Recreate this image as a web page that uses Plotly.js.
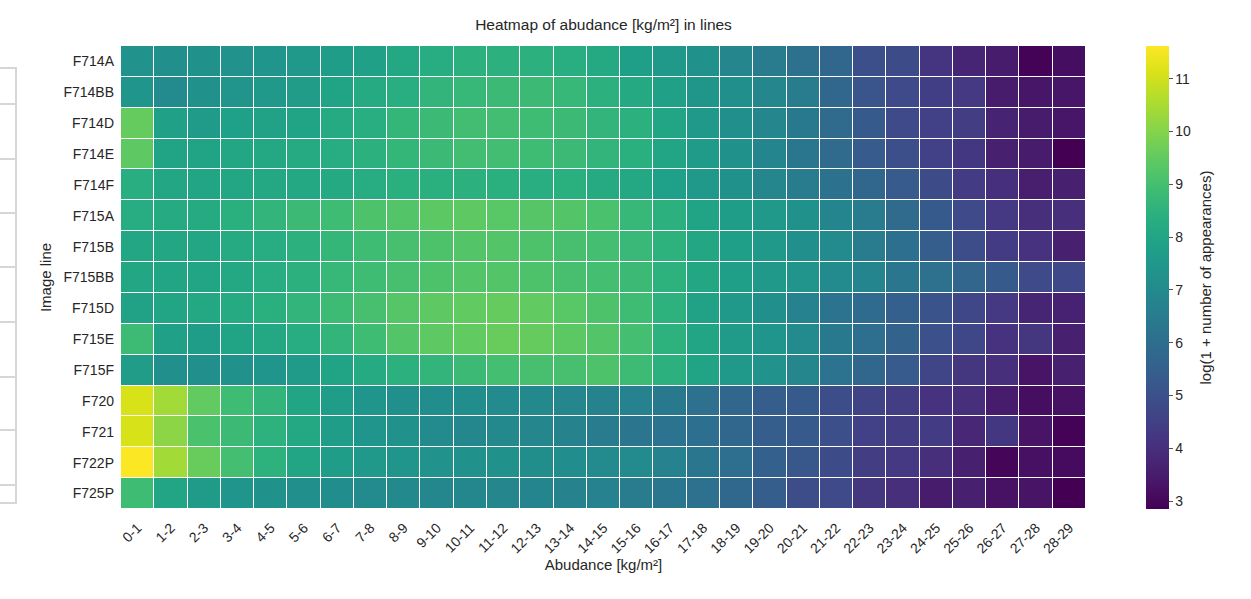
<!DOCTYPE html>
<html>
<head>
<meta charset="utf-8">
<script src="https://cdn.plot.ly/plotly-3.0.1.min.js"></script>
<style>html,body{margin:0;padding:0;background:#fff;}#chart{width:1251px;height:599px;}</style>
</head>
<body>
<div id="chart"></div>
<script>
// Abundance bins (x categories)
const bins = ["0-1","1-2","2-3","3-4","4-5","5-6","6-7","7-8","8-9","9-10","10-11","11-12","12-13","13-14","14-15","15-16","16-17","17-18","18-19","19-20","20-21","21-22","22-23","23-24","24-25","25-26","26-27","27-28","28-29"];
// Image lines (y categories)
const lines = ["F714A","F714BB","F714D","F714E","F714F","F715A","F715B","F715BB","F715D","F715E","F715F","F720","F721","F722P","F725P"];

// log(1 + number of appearances), one array per image line
const F714A  = [7.3,7.2,7.25,7.3,7.4,7.55,7.7,7.85,8.1,8.3,8.45,8.45,8.45,8.35,8.15,7.75,7.55,7.25,6.85,6.5,6.1,5.75,4.95,4.85,4.15,3.75,3.5,2.9,3.15];
const F714BB = [7.4,7.05,7.25,7.35,7.5,7.65,7.95,8.2,8.35,8.6,8.7,8.8,8.8,8.7,8.45,8.15,7.85,7.45,7.2,6.85,6.45,5.75,5.15,4.8,4.45,4.3,3.5,3.35,3.35];
const F714D  = [9.55,7.85,7.6,7.8,7.9,7.95,8.2,8.35,8.65,8.8,8.95,8.95,8.9,8.8,8.6,8.45,8.0,7.55,7.2,6.85,6.4,5.85,5.3,4.8,4.5,4.4,3.7,3.5,3.35];
const F714E  = [9.45,7.95,7.95,8.05,8.1,8.2,8.3,8.45,8.65,8.8,8.95,8.95,8.9,8.8,8.6,8.4,8.0,7.6,7.25,6.8,6.3,5.85,5.35,4.95,4.5,4.25,3.6,3.5,2.85];
const F714F  = [8.35,8.05,8.0,8.05,8.1,8.1,8.15,8.3,8.4,8.4,8.45,8.4,8.35,8.4,8.2,8.1,7.8,7.55,7.25,6.85,6.5,6.15,5.75,5.35,4.85,4.35,4.05,3.55,3.6];
const F715A  = [8.3,8.2,8.2,8.4,8.6,8.8,8.9,9.15,9.25,9.4,9.45,9.35,9.3,9.25,9.1,8.7,8.45,7.95,7.7,7.5,7.25,6.8,6.5,5.85,5.3,4.8,4.3,4.0,4.0];
const F715B  = [8.05,8.05,8.05,8.2,8.3,8.45,8.65,8.9,9.05,9.15,9.25,9.25,9.15,9.05,9.0,8.75,8.5,8.05,7.75,7.55,7.2,7.0,6.5,6.05,5.45,4.9,4.35,4.1,3.6];
const F715BB = [8.05,8.0,8.0,8.1,8.3,8.45,8.7,8.9,9.05,9.15,9.25,9.25,9.15,9.05,9.0,8.8,8.5,8.05,7.75,7.55,7.35,7.0,6.8,6.3,6.1,5.7,5.3,4.8,4.75];
const F715D  = [7.9,8.0,8.1,8.2,8.4,8.6,8.85,9.05,9.3,9.45,9.5,9.55,9.5,9.35,9.15,8.9,8.5,7.9,7.5,7.2,6.7,6.2,5.9,5.5,5.1,4.7,4.3,3.75,3.65];
const F715E  = [8.85,7.85,7.7,7.95,8.1,8.3,8.6,8.9,9.25,9.45,9.5,9.6,9.55,9.4,9.25,9.0,8.5,8.0,7.6,7.4,7.0,6.4,6.0,5.6,5.0,4.7,4.1,4.2,3.6];
const F715F  = [7.65,7.2,7.2,7.25,7.4,7.6,7.95,8.2,8.45,8.6,8.8,9.0,9.05,9.05,9.15,8.85,8.45,7.95,7.55,7.3,6.85,6.2,5.75,5.35,4.65,4.2,4.0,3.3,3.6];
const F720   = [11.1,10.4,9.5,8.9,8.6,8.0,7.7,7.4,7.2,7.1,7.1,7.0,6.95,6.85,6.75,6.7,6.4,6.1,5.75,5.45,5.3,4.9,4.6,4.4,4.1,4.0,3.5,3.15,3.25];
const F721   = [11.1,10.1,9.1,8.8,8.5,8.1,7.7,7.4,7.25,7.0,6.9,6.95,6.85,6.75,6.5,6.25,6.2,6.05,5.75,5.45,5.3,4.95,4.5,4.4,4.35,3.8,4.25,3.3,2.9];
const F722P  = [11.6,10.4,9.6,9.0,8.5,8.0,7.7,7.5,7.4,7.3,7.25,7.25,7.15,7.1,7.0,7.0,6.7,6.3,6.0,5.5,5.25,4.85,4.4,4.3,4.0,3.6,2.95,3.2,3.1];
const F725P  = [8.9,8.0,7.6,7.4,7.25,7.2,7.1,7.0,6.95,6.9,6.9,6.85,6.8,6.75,6.7,6.5,6.3,6.1,5.8,5.45,4.9,4.8,4.2,4.0,3.5,3.6,3.25,3.3,2.85];

const z = [F714A,F714BB,F714D,F714E,F714F,F715A,F715B,F715BB,F715D,F715E,F715F,F720,F721,F722P,F725P];

const W = 1251, H = 599, M = {l:121, r:165, t:46, b:90};
const pw = W - M.l - M.r, ph = H - M.t - M.b;
const px2x = p => (p - M.l) / pw;
const px2y = p => (H - M.b - p) / ph;

// decorative grey frame at the far left of the picture
const frameYs = [68,104,159,213,267,322,377,430,485,503];
const shapes = [];
const gc = '#d6d6d6';
shapes.push({type:'line', xref:'paper', yref:'paper', x0:px2x(16), x1:px2x(16), y0:px2y(68), y1:px2y(504), line:{color:gc, width:2}});
frameYs.forEach(py => shapes.push({type:'line', xref:'paper', yref:'paper', x0:px2x(-2), x1:px2x(17), y0:px2y(py), y1:px2y(py), line:{color:gc, width:2}}));

const font = 'Liberation Sans, Arial, sans-serif';
const txt = '#262626';

const trace = {
  type: 'heatmap',
  x: bins,
  y: lines,
  z: z,
  colorscale: 'Viridis',
  zmin: 2.85,
  zmax: 11.62,
  xgap: 1,
  ygap: 1,
  hoverongaps: false,
  colorbar: {
    thickness: 23,
    len: 1,
    lenmode: 'fraction',
    x: px2x(1146),
    xanchor: 'left',
    xpad: 0,
    ypad: 0,
    y: 0.5,
    yanchor: 'middle',
    outlinewidth: 0,
    tickmode: 'linear',
    tick0: 3,
    dtick: 1,
    ticks: 'outside',
    ticklen: 4,
    tickwidth: 1,
    tickcolor: '#555',
    tickfont: {family: font, size: 14, color: txt},
    title: {text: '', side: 'right'}
  }
};

const layout = {
  width: W,
  height: H,
  margin: M,
  paper_bgcolor: '#ffffff',
  plot_bgcolor: '#ffffff',
  font: {family: font, color: txt},
  title: {
    text: 'Heatmap of abudance [kg/m²] in lines',
    font: {family: font, size: 15.5, color: txt},
    x: (603.5) / W,
    xanchor: 'center',
    y: 1 - 25 / H,
    yanchor: 'middle'
  },
  xaxis: {
    type: 'category',
    tickangle: -45,
    tickfont: {family: font, size: 14, color: txt},
    ticks: '',
    ticklabelstandoff: 7,
    showgrid: false,
    zeroline: false,
    showline: false,
    title: {text: 'Abudance [kg/m²]', font: {family: font, size: 15, color: txt}, standoff: 2}
  },
  yaxis: {
    type: 'category',
    autorange: 'reversed',
    tickfont: {family: font, size: 14, color: txt},
    ticks: '',
    ticklabelstandoff: 6,
    showgrid: false,
    zeroline: false,
    showline: false,
    title: {text: 'Image line', font: {family: font, size: 15, color: txt}, standoff: 8}
  },
  annotations: [{
    text: 'log(1 + number of appearances)',
    xref: 'paper', yref: 'paper',
    x: px2x(1205), y: 0.5,
    xanchor: 'center', yanchor: 'middle',
    textangle: -90,
    showarrow: false,
    font: {family: font, size: 15, color: txt}
  }],
  shapes: shapes
};

Plotly.newPlot('chart', [trace], layout, {displayModeBar: false, staticPlot: true});
</script>
</body>
</html>
